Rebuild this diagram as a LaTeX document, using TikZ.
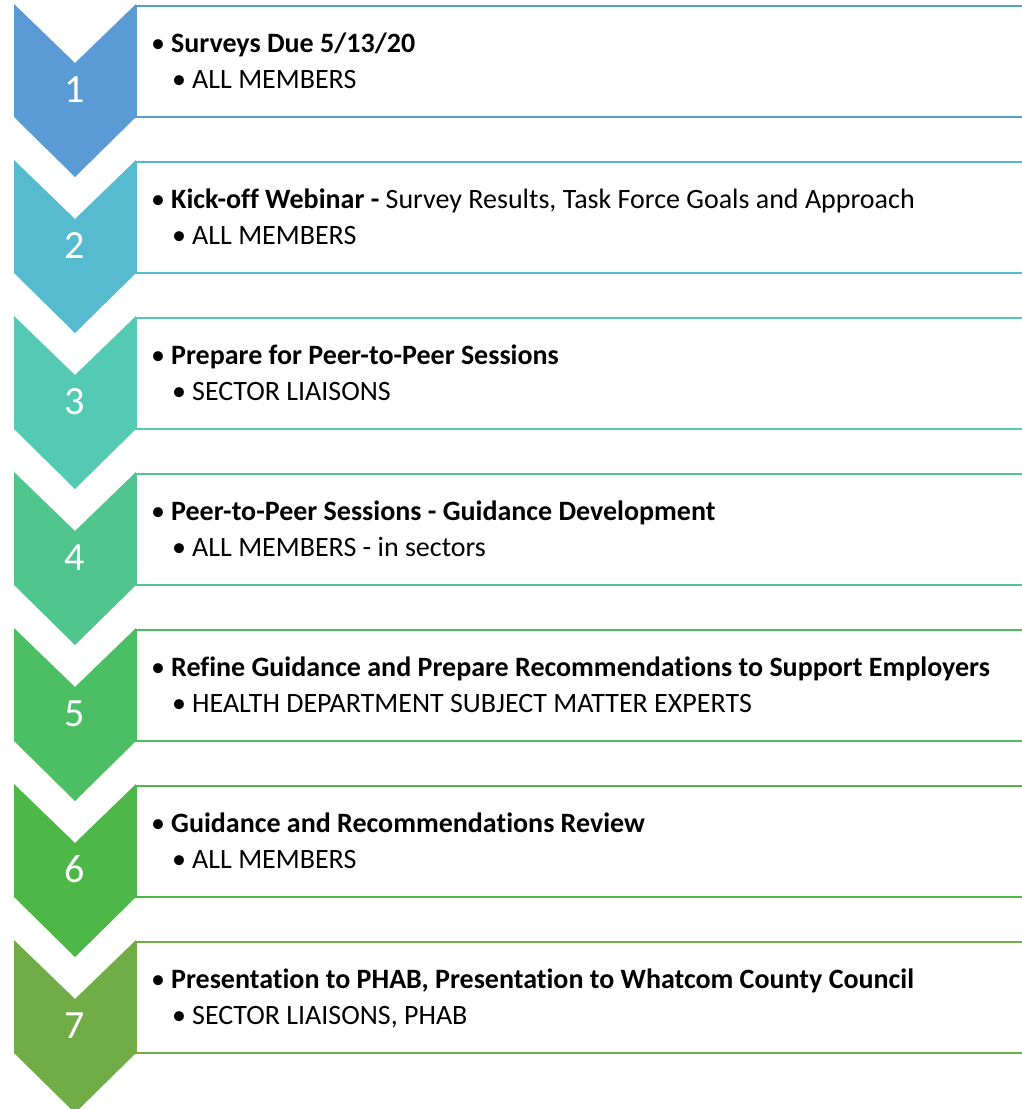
\documentclass[tikz,border=0pt]{standalone}
\usepackage{fontspec}
\setmainfont{Carlito}[RawFeature=-liga]
\definecolor{c1}{RGB}{91,155,213}
\definecolor{c2}{RGB}{87,187,207}
\definecolor{c3}{RGB}{84,202,180}
\definecolor{c4}{RGB}{80,197,142}
\definecolor{c5}{RGB}{76,191,100}
\definecolor{c6}{RGB}{77,183,72}
\definecolor{c7}{RGB}{112,173,71}
\tikzset{
  numtxt/.style={anchor=base, inner sep=0pt, text=white, font=\fontsize{40}{40}\selectfont},
  lvlone/.style={anchor=base west, inner sep=0pt, font=\fontsize{28}{32}\selectfont},
  lvltwo/.style={anchor=base west, inner sep=0pt, font=\fontsize{28}{32}\selectfont},
  boxline/.style={line width=2.2pt}
}
\newcommand{\bulA}{\makebox[20pt][l]{\textbullet}}
\begin{document}
\begin{tikzpicture}[x=1pt,y=-1pt]
\useasboundingbox (0,0) rectangle (1022,1109);
\clip (0,0) rectangle (1022,1109);
\foreach \i/\col/\one/\two in {
 1/c1/{\textbf{Surveys Due 5/13/20}}/{ALL MEMBERS},
 2/c2/{\textbf{Kick-off Webinar -} Survey Results, Task Force Goals and Approach}/{ALL MEMBERS},
 3/c3/{\textbf{Prepare for Peer-to-Peer Sessions}}/{SECTOR LIAISONS},
 4/c4/{\textbf{Peer-to-Peer Sessions - Guidance Development}}/{ALL MEMBERS - in sectors},
 5/c5/{\textbf{Refine Guidance and Prepare Recommendations to Support Employers}}/{HEALTH DEPARTMENT SUBJECT MATTER EXPERTS},
 6/c6/{\textbf{Guidance and Recommendations Review}}/{ALL MEMBERS},
 7/c7/{\textbf{Presentation to PHAB, Presentation to Whatcom County Council}}/{SECTOR LIAISONS, PHAB}}{
  \pgfmathsetmacro{\t}{4+156*(\i-1)}
  % box
  \draw[boxline, draw=\col, fill=white] (136,\t+2) rectangle (1040,\t+113);
  % chevron
  \fill[\col] (14,\t) -- (75,\t+59) -- (136,\t) -- (136,\t+113) -- (75,\t+173) -- (14,\t+113) -- cycle;
  \node[numtxt] (n\i) at (75,\t+98) {\i};
  \node[lvlone] (a\i) at (151,\t+48) {\bulA\one};
  \node[lvltwo] (b\i) at (172,\t+84) {\bulA\two};
}
\end{tikzpicture}
\end{document}
